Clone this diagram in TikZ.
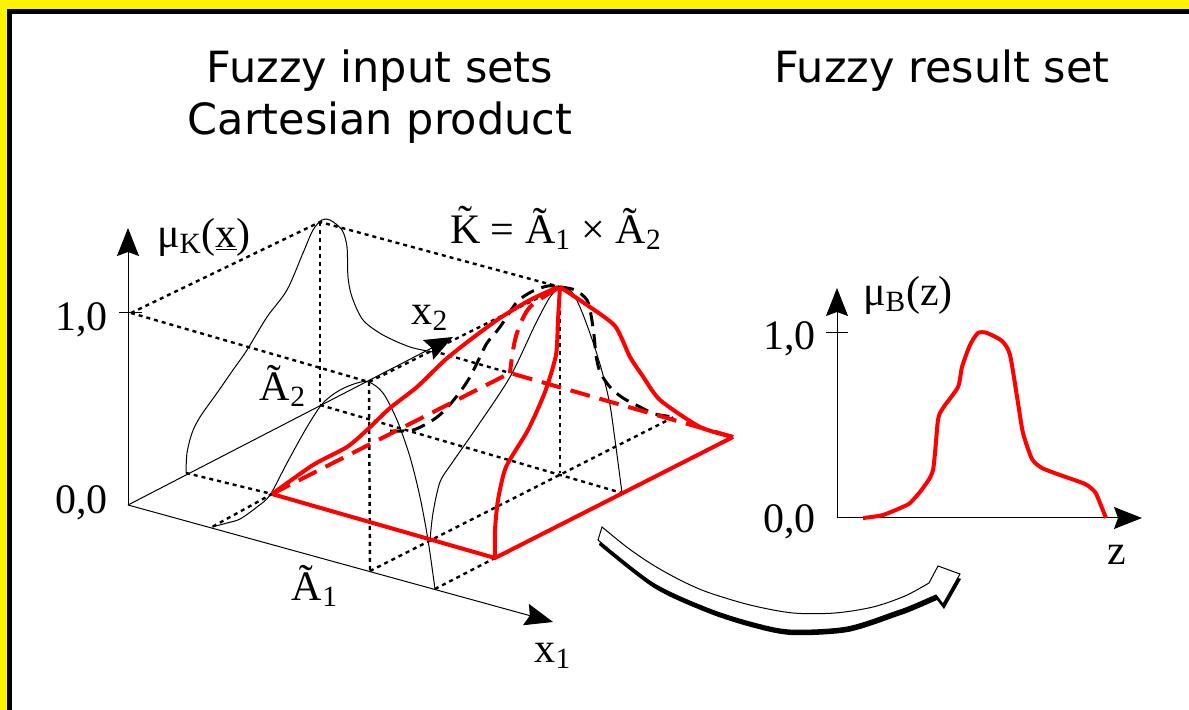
\documentclass[tikz,border=0pt]{standalone}
\usepackage{fontspec}
\setmainfont{Liberation Serif}
\newfontfamily\titlefont{DejaVu Sans}
\usetikzlibrary{arrows.meta}

% outline of the bent block arrow
\newcommand{\bowshape}{plot[smooth] coordinates {(602,527) (628,548) (653,565) (680,580) (707,592) (750,605) (793,613) (835,613) (873,607) (905,596) (929,583)}
  -- (938,566) -- (960,574) -- (943,604)
  -- plot[smooth] coordinates {(936,595) (913,605) (897,611) (847,627) (790,630) (750,622) (707,608) (653,583) (598,540)} -- cycle}

\begin{document}
\begin{tikzpicture}[x=0.5pt,y=-0.5pt,
  lbl/.style={font=\fontsize{21}{25}\selectfont, inner sep=0pt},
  ttl/.style={font=\titlefont\fontsize{21.5}{25}\selectfont, inner sep=0pt},
  thinline/.style={line width=0.5pt},
  axis/.style={line width=0.5pt, -{Stealth[length=14pt,width=11pt,inset=2pt]}},
  dotline/.style={line width=1.2pt, dash pattern=on 2pt off 2pt},
  hidden/.style={line width=1.5pt, dash pattern=on 7pt off 4pt},
  redline/.style={red, line width=2pt, line join=round},
  reddash/.style={red, line width=2pt, dash pattern=on 10pt off 5pt}]

% frame
\fill[yellow] (0,0) rectangle (1189,710);
\fill[black] (7,9) rectangle (1189,710);
\fill[white] (12,14) rectangle (1189,710);
\useasboundingbox (0,0) rectangle (1189,710);

% titles
\node[ttl] (tin) at (380,71) {Fuzzy input sets};
\node[ttl] (tcp) at (380,123) {Cartesian product};
\node[ttl] (tres) at (942,71) {Fuzzy result set};

% points of the 3d plot
\coordinate (O) at (128,505);
\coordinate (ztip) at (128,228);
\coordinate (x1tip) at (553,622);
\coordinate (x2tip) at (453,337);
\coordinate (t1a) at (119,313);
\coordinate (t1b) at (142,313);
\coordinate (one) at (131,313);
\coordinate (a2s) at (186,473);
\coordinate (a2p) at (320,222);
\coordinate (a2b) at (320,405);
\coordinate (a2e) at (433,351);
\coordinate (a1s) at (212,527);
\coordinate (a1p) at (369,382);
\coordinate (a1b) at (370,571);
\coordinate (a1e) at (435,589);
\coordinate (P) at (560,287);
\coordinate (B) at (560,473);
\coordinate (L) at (272,494);
\coordinate (F) at (495,558);
\coordinate (R) at (733,437);
\coordinate (Bk) at (510,373);
\coordinate (c2) at (622,493);
\coordinate (c3) at (674,417);

% level and base grid
\draw[dotline] (one) -- (a2p) -- (P);
\draw[dotline] (one) -- (a1p) -- (P);
\draw[dotline] (a2p) -- (a2b);
\draw[dotline] (a1p) -- (a1b);
\draw[dotline] (P) -- (B);
\draw[dotline] (a2s) -- (L) -- (a1s);
\draw[dotline] (a2b) -- (c2);
\draw[dotline] (a1b) -- (c3);
\draw[dotline] (a1e) -- (F);
\draw[dotline] (a2e) -- (Bk);

% axes
\draw[axis] (O) -- (ztip);
\draw[axis] (O) -- (x1tip);
\draw[axis] (O) -- (x2tip);
\draw[thinline] (t1a) -- (t1b);

% membership functions A1, A2
\draw[thinline] plot[smooth] coordinates {(186,473) (187,453) (192,433) (200,417) (217,393) (233,370) (247,350) (267,317) (287,290) (303,253) (313,230) (322,220) (330,220) (342,230) (347,247) (348,277) (352,297) (363,320) (383,335) (410,347) (433,352)};
\draw[thinline] plot[smooth] coordinates {(212,527) (227,523) (240,519) (257,507) (270,495) (287,463) (307,427) (323,403) (340,390) (357,383) (369,382) (383,393) (397,420) (410,457) (420,497) (428,540) (435,589)};

% cuts through the surface
\draw[thinline] plot[smooth] coordinates {(430,540) (433,513) (440,482) (452,463) (477,427) (510,377) (535,325) (550,297) (560,287)};
\draw[thinline] plot[smooth] coordinates {(560,287) (572,292) (582,312) (594,345) (603,375) (610,405) (615,440) (619,470) (622,493)};
\draw[hidden] plot[smooth] coordinates {(390,431) (413,430) (433,420) (446,409) (460,392) (470,377) (480,357) (487,343) (500,327) (517,302) (533,291) (548,286) (560,287)};
\draw[hidden] plot[smooth] coordinates {(560,287) (575,290) (587,300) (591,315) (594,335) (596,355) (600,372) (610,387) (623,398) (640,407) (655,414) (674,417)};

% support and surface of K
\draw[reddash] (L) -- (Bk) -- (R);
\draw[reddash] plot[smooth] coordinates {(558,288) (530,307) (518,330) (513,350) (510,373)};
\draw[redline] (L) -- (F) -- (R);
\draw[redline] plot[smooth, tension=0.4] coordinates {(272,494) (313,465) (347,447) (367,430) (390,408) (417,387) (445,360) (470,340) (500,318) (530,300) (558,287)};
\draw[redline] plot[smooth, tension=0.4] coordinates {(560,287) (587,305) (615,326) (630,357) (642,375) (660,400) (700,427) (733,437)};
\draw[redline] plot[smooth, tension=0.4] coordinates {(560,287) (558,320) (556,355) (545,392) (528,430) (506,467) (498,500) (495,530) (495,558)};

% labels of the 3d plot
\node[lbl] (muK) at (204,237) {μ\textsubscript{K}(\underline{x})};
\node[lbl, anchor=base east] (l1) at (108,331) {1,0};
\node[lbl, anchor=base east] (l0) at (108,514) {0,0};
\node[lbl] (lA2) at (283,386) {\~{A}\textsubscript{2}};
\node[lbl] (lA1) at (315,586) {\~{A}\textsubscript{1}};
\node[lbl] (lx2) at (430,318) {x\textsubscript{2}};
\node[lbl] (lx1) at (553,656) {x\textsubscript{1}};
\node[lbl] (lK) at (556,228) {\~{K} = \~{A}\textsubscript{1} × \~{A}\textsubscript{2}};

% result set
\coordinate (Bo) at (837,518);
\coordinate (Bup) at (837,288);
\coordinate (Bz) at (1142,518);
\coordinate (Bt1) at (826,333);
\coordinate (Bt2) at (848,333);
\draw[axis] (Bo) -- (Bup);
\draw[axis] (Bo) -- (Bz);
\draw[thinline] (Bt1) -- (Bt2);
\draw[redline] plot[smooth, tension=0.4] coordinates {(863,518) (883,515) (907,505) (913,500) (923,488) (933,470) (938,420) (943,408) (958,387) (962,367) (970,345) (978,333) (987,333) (1002,341) (1010,355) (1018,403) (1023,433) (1032,459) (1042,468) (1060,475) (1085,484) (1095,492) (1100,503) (1106,518)};
\node[lbl] (muB) at (908,295) {μ\textsubscript{B}(z)};
\node[lbl, anchor=base east] (r1) at (816,350) {1,0};
\node[lbl, anchor=base east] (r0) at (816,533) {0,0};
\node[lbl] (lz) at (1117,555) {z};

% bent arrow with shadow
\scope[shift={(1,5)}]
\fill[black] \bowshape;
\endscope
\fill[white, draw=black, line width=0.5pt] \bowshape;
\end{tikzpicture}
\end{document}
